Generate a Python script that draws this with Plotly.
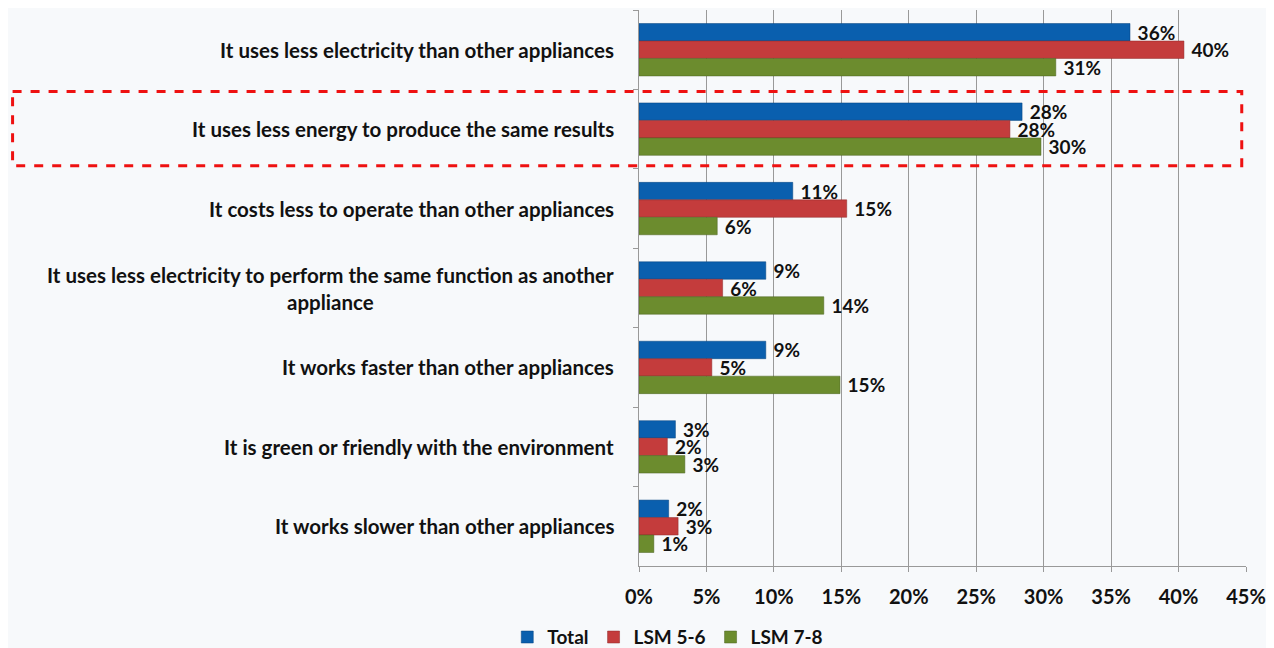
import plotly.graph_objects as go

categories = [
    "It uses less electricity than other appliances",
    "It uses less energy to produce the same results",
    "It costs less to operate than other appliances",
    "It uses less electricity to perform the same function as another<br>appliance",
    "It works faster than other appliances",
    "It is green or friendly with the environment",
    "It works slower than other appliances",
]
series_names = ["Total", "LSM 5-6", "LSM 7-8"]
total = [36.4, 28.4, 11.4, 9.4, 9.4, 2.7, 2.2]
lsm56 = [40.4, 27.5, 15.4, 6.2, 5.4, 2.1, 2.9]
lsm78 = [30.9, 29.8, 5.8, 13.7, 14.9, 3.4, 1.1]
x_ticks = [0, 5, 10, 15, 20, 25, 30, 35, 40, 45]
x_tick_labels = [f"{v}%" for v in x_ticks]

colors = ["#0A5FAE", "#C43C3C", "#6C8C2E"]
line_colors = ["#04427F", "#8E2A2A", "#4A6320"]
FONT = "Lato, Liberation Sans, sans-serif"
TXT = "#111111"

def f(size):
    return dict(family=FONT, size=size, color=TXT, weight="bold")

fig = go.Figure()
for name, vals, c, lc in zip(series_names, [total, lsm56, lsm78], colors, line_colors):
    fig.add_trace(go.Bar(
        y=categories, x=vals, name=name, orientation="h",
        marker=dict(color=c, line=dict(color=lc, width=0.5)),
        texttemplate="\u00a0%{x:.0f}%", textposition="outside",
        textfont=f(19), constraintext="none",
        cliponaxis=False,
    ))

for cat in categories:
    fig.add_annotation(
        x=-0.038, xref="paper", y=cat, yref="y", text=cat,
        showarrow=False, xanchor="right", yanchor="middle", align="center",
        font=f(20.5),
    )

# highlighted category box
fig.add_shape(
    type="rect", xref="paper", yref="y",
    x0=-1.032, x1=0.993, y0=0.525, y1=1.46,
    line=dict(color="#EE1111", width=3, dash="dash"),
    fillcolor="rgba(0,0,0,0)",
)

fig.update_layout(
    width=1266, height=640,
    margin=dict(l=631, r=28, t=2, b=82, autoexpand=False),
    barmode="group", bargap=0.34, bargroupgap=0,
    paper_bgcolor="#F7F9FB", plot_bgcolor="rgba(0,0,0,0)",
    font=f(19),
    showlegend=True,
    legend=dict(
        orientation="h", x=-0.217, y=-0.128, xanchor="left", yanchor="middle",
        font=f(19), bgcolor="rgba(0,0,0,0)", itemwidth=30, tracegroupgap=0,
    ),
)
fig.update_xaxes(
    range=[0, 45], tickvals=x_ticks, ticktext=x_tick_labels,
    showgrid=True, gridcolor="#999999", gridwidth=1,
    showline=True, linecolor="#999999", linewidth=1,
    ticks="outside", ticklen=5, tickcolor="#999999",
    tickfont=f(20), ticklabelstandoff=8,
    zeroline=False, fixedrange=True, automargin=False,
)
fig.update_yaxes(
    autorange="reversed", showticklabels=False,
    showline=True, linecolor="#999999", linewidth=1,
    ticks="outside", ticklen=5, tickcolor="#999999", tickson="boundaries",
    showgrid=False, fixedrange=True, automargin=False,
)

fig.write_html("out.html")
